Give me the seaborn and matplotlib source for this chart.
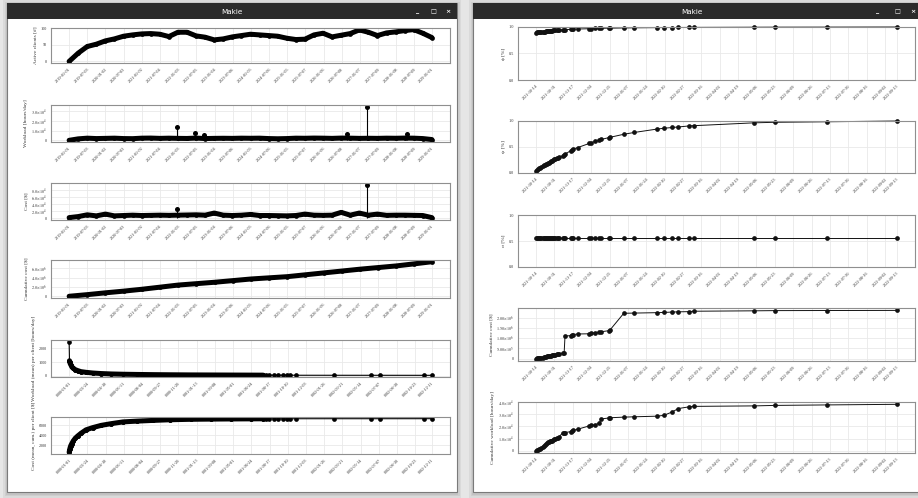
import numpy as np
import pandas as pd
import matplotlib
matplotlib.use("Agg")
import matplotlib.pyplot as plt
from matplotlib.patches import Rectangle
import seaborn as sns

W, H = 918, 498

# ---------------- data: left window ----------------
left_tick_labels = ["2019-01-01", "2019-07-03", "2020-01-02", "2020-07-03", "2021-01-02",
                    "2021-07-04", "2022-01-03", "2022-07-05", "2023-01-04", "2023-07-06",
                    "2024-01-05", "2024-07-06", "2025-01-05", "2025-07-07", "2026-01-06",
                    "2026-07-08", "2027-01-07", "2027-07-09", "2028-01-08", "2028-07-09",
                    "2029-01-01"]
left_q_dates = pd.date_range("2019-01-01", "2029-01-01", periods=41)

active_clients = [0, 25, 45, 52, 62, 68, 76, 80, 83, 84, 82, 75, 88, 88, 77, 73, 65, 68, 74, 78,
                  82, 80, 78, 76, 70, 66, 67, 80, 85, 74, 79, 84, 95, 88, 78, 86, 89, 93, 96, 85, 72]

workload_base = [0, 1500, 2200, 1800, 2000, 2200, 1800, 1700, 2200, 2300, 2000, 2200, 2000, 1900,
                 2300, 1800, 2000, 2100, 2000, 2200, 2100, 2200, 1800, 1600, 1800, 2200, 2100,
                 2300, 2200, 2000, 2300, 2200, 2000, 2100, 2000, 2200, 2100, 2300, 2200, 1800, 800]
wl_spike_dates = ["2021-12-18", "2022-06-22", "2022-09-20", "2026-09-03", "2027-03-24", "2028-04-30"]
wl_spike_values = [14000, 8000, 5700, 6300, 34500, 6300]

cost_base = [2000, 5000, 10000, 7000, 12000, 7000, 8000, 9000, 8000, 8500, 9000, 8500, 9000, 9500,
             10000, 9000, 15000, 9000, 8000, 9000, 11000, 8000, 8000, 7500, 7000, 8000, 12000,
             9000, 8500, 9000, 17000, 9000, 15000, 9000, 12000, 8500, 9000, 9000, 8500, 8000, 2000]
cost_spike_dates = ["2021-12-18", "2027-03-24"]
cost_spike_values = [26000, 96000]

cumcost_values = [0, 0.35e6, 0.74e6, 1.1e6, 1.5e6, 1.95e6, 2.4e6, 2.7e6, 3.0e6, 3.35e6, 3.7e6,
                  3.95e6, 4.2e6, 4.6e6, 5.0e6, 5.4e6, 5.8e6, 6.15e6, 6.5e6, 6.95e6, 7.4e6]

pc_tick_labels = ["0000-01-01", "0000-02-24", "0000-04-18", "0000-06-11", "0000-08-04",
                  "0000-09-27", "0000-11-20", "0001-01-13", "0001-03-08", "0001-05-01",
                  "0001-06-24", "0001-08-17", "0001-10-10", "0001-12-03", "0002-01-26",
                  "0002-03-21", "0002-05-14", "0002-07-07", "0002-08-30", "0002-10-23",
                  "0002-12-11"]
pc_tick_days = [0, 54, 108, 162, 216, 270, 324, 378, 432, 486, 540, 594, 648, 702, 756,
                810, 864, 918, 972, 1026, 1075]
pc_days = [0, 1, 2, 3, 5, 8, 12, 18, 25, 35, 50, 70, 95, 125, 160, 200, 250, 300, 360, 420, 480,
           540, 575, 582, 593, 607, 620, 633, 645, 654, 673, 786, 895, 922, 1052, 1075]
pc_workload = [2500, 1100, 1000, 900, 800, 650, 550, 450, 380, 300, 250, 200, 160, 130, 110, 95,
               80, 70, 60, 55, 50, 45, 42, 40, 40, 38, 38, 37, 37, 36, 35, 33, 32, 32, 30, 30]
pc_cost = [530, 900, 1200, 1500, 1900, 2300, 2800, 3350, 3800, 4350, 5050, 5500, 5950, 6300, 6650,
           6800, 6950, 7080, 7170, 7210, 7240, 7260, 7270, 7270, 7270, 7275, 7275, 7280, 7280,
           7280, 7285, 7290, 7290, 7290, 7295, 7295]
pc_dense_end = 23

# ---------------- data: right window ----------------
right_tick_labels = ["2021-10-14", "2021-10-31", "2021-11-17", "2021-12-04", "2021-12-21",
                     "2022-01-07", "2022-01-24", "2022-02-10", "2022-02-27", "2022-03-16",
                     "2022-04-02", "2022-04-19", "2022-05-06", "2022-05-23", "2022-06-09",
                     "2022-06-26", "2022-07-13", "2022-07-30", "2022-08-16", "2022-09-02",
                     "2022-09-13"]
ev_days = [0, 1, 2, 3, 4, 5, 6, 7, 8, 9, 10, 11, 12, 13, 14, 15, 16, 17, 18, 19, 20, 21,
           24.5, 26.0, 26.8, 32, 33, 34.5, 38.7, 49.4, 51, 54.7, 58.7, 60.3, 67.2, 68.2, 81.2, 91,
           112, 118.3, 126, 131.6, 141.5, 146.1, 202, 220.8, 268.8, 334]
phi = [0.895, 0.898, 0.900, 0.903, 0.906, 0.908, 0.910, 0.913, 0.915, 0.918, 0.920, 0.922, 0.925,
       0.927, 0.930, 0.932, 0.934, 0.936, 0.938, 0.940, 0.942, 0.944,
       0.946, 0.948, 0.950, 0.955, 0.956, 0.958, 0.962, 0.968, 0.970, 0.972, 0.974, 0.975, 0.978,
       0.978, 0.982, 0.985, 0.988, 0.989, 0.990, 0.991, 0.992, 0.993, 0.996, 0.997, 0.998, 1.0]
psi = [0.045, 0.06, 0.075, 0.09, 0.10, 0.115, 0.13, 0.145, 0.16, 0.17, 0.18, 0.19, 0.20, 0.21,
       0.225, 0.235, 0.25, 0.26, 0.27, 0.28, 0.29, 0.30,
       0.33, 0.35, 0.36, 0.43, 0.44, 0.46, 0.49, 0.57, 0.58, 0.61, 0.63, 0.645, 0.68, 0.685, 0.745,
       0.78, 0.845, 0.86, 0.875, 0.885, 0.905, 0.91, 0.965, 0.975, 0.985, 1.0]
sigma = [0.56, 0.56, 0.56, 0.56, 0.56, 0.56, 0.56, 0.56, 0.56, 0.56, 0.56, 0.56, 0.56, 0.56,
         0.56, 0.56, 0.56, 0.56, 0.56, 0.56, 0.56, 0.56, 0.56, 0.56, 0.56, 0.56, 0.56, 0.56,
         0.56, 0.56, 0.56, 0.56, 0.56, 0.56, 0.56, 0.56, 0.56, 0.56, 0.56, 0.56, 0.56, 0.56,
         0.56, 0.56, 0.56, 0.56, 0.56, 0.56]
r_cumcost = [0, 5e3, 1e4, 2e4, 3e4, 4e4, 5e4, 6.5e4, 8e4, 9.5e4, 1.1e5, 1.2e5, 1.3e5, 1.4e5,
             1.5e5, 1.6e5, 1.7e5, 1.8e5, 1.95e5, 2.1e5, 2.3e5, 2.45e5,
             2.6e5, 2.7e5, 1.10e6, 1.12e6, 1.14e6, 1.17e6, 1.20e6, 1.21e6, 1.24e6, 1.26e6, 1.29e6,
             1.31e6, 1.36e6, 1.38e6, 2.21e6, 2.22e6, 2.24e6, 2.25e6, 2.27e6, 2.28e6, 2.29e6,
             2.31e6, 2.33e6, 2.34e6, 2.345e6, 2.35e6]
r_cumwork = [0, 300, 700, 1200, 1800, 2500, 3200, 4000, 5000, 5800, 6300, 6800, 7200, 7600, 8000,
             8400, 8800, 9300, 9800, 10300, 10800, 11300,
             14500, 14800, 15000, 15700, 16200, 16800, 17800, 20500, 21000, 21200, 23000, 26200,
             27000, 27200, 27700, 28000, 28500, 29200, 32000, 34800, 36200, 36600, 37000, 37400,
             37800, 38300]

# ---------------- style ----------------
sns.set_style("white")
plt.rcParams["font.family"] = ["Liberation Serif", "DejaVu Serif"]
plt.rcParams["mathtext.fontset"] = "stix"

TXT = "#333333"
TICK_FS = 3.1
LAB_FS = 3.9
BAND_LW = 3.6
MS = 3.4

fig = plt.figure(figsize=(W / 100, H / 100), dpi=100)
fig.patch.set_facecolor("#e6e6e6")


def rect_px(x0, y0, x1, y1, **kw):
    r = Rectangle((x0 / W, 1 - y1 / H), (x1 - x0) / W, (y1 - y0) / H,
                  transform=fig.transFigure, figure=fig, zorder=-10, **kw)
    fig.patches.append(r)


def window(x0, x1, y0=3, y1=492, title_cx=0, btns=()):
    for d, a in ((4, 0.25), (2.5, 0.35), (1.2, 0.5)):
        rect_px(x0 - d, y0 - d + 1.5, x1 + d, y1 + d + 1.5, facecolor="#b8b8b8", alpha=a, lw=0)
    rect_px(x0, y0, x1, y1, facecolor="white", edgecolor="#7a7a7a", lw=0.8)
    rect_px(x0, y0, x1, y0 + 16, facecolor="#2b2b2b", lw=0)
    fig.text(title_cx / W, 1 - (y0 + 8.5) / H, "Makie", color="white", fontsize=5.2,
             ha="center", va="center", family="DejaVu Sans")
    for bx, g in zip(btns, ["_", "\u25a1", "\u00d7"]):
        fig.text(bx / W, 1 - (y0 + 8.5) / H, g, color="white", fontsize=4.5, ha="center",
                 va="center", family="DejaVu Sans", fontweight="bold")


window(7, 457, title_cx=232, btns=(418, 433, 448))
window(473, 921, title_cx=692, btns=(878, 897, 913))


def ax_at(x0, y0, x1, y1):
    return fig.add_axes([x0 / W, 1 - y1 / H, (x1 - x0) / W, (y1 - y0) / H])


def sci(v, digits):
    if v == 0:
        return "0"
    e = int(np.floor(np.log10(abs(v)) + 1e-9))
    m = v / 10 ** e
    return rf"${m:.{digits}f}{{\times}}10^{{{e}}}$"


def style(ax, ylabel, yticks, ylabels, xticks, xlabels):
    ax.set_facecolor("white")
    ax.grid(True, color="#e9e9e9", lw=0.6)
    ax.set_axisbelow(True)
    for s in ax.spines.values():
        s.set_color("#8f8f8f")
        s.set_linewidth(0.8)
    ax.set_yticks(yticks)
    ax.set_yticklabels(ylabels)
    ax.set_xticks(xticks)
    ax.set_xticklabels(xlabels, rotation=45, ha="right", rotation_mode="anchor")
    ax.tick_params(axis="both", labelsize=TICK_FS, length=1.8, width=0.5, color="#8f8f8f",
                   labelcolor=TXT, pad=1.2)
    ax.set_xlabel("")
    ax.set_ylabel(ylabel, fontsize=LAB_FS, color=TXT, labelpad=2)


def band(ax, x, y, lw=BAND_LW):
    sns.lineplot(x=x, y=y, ax=ax, color="black", lw=lw, marker="o", markersize=MS,
                 markeredgewidth=0, estimator=None, sort=False)


def spikes(ax, dates, values):
    d = pd.to_datetime(dates)
    ax.vlines(d, 0, values, color="black", lw=0.8)
    sns.scatterplot(x=d, y=values, ax=ax, color="black", s=13, linewidth=0)


left_ticks = pd.to_datetime(left_tick_labels)
LX0, LX1 = 51, 450

# 1 Active clients
ax = ax_at(LX0, 28, LX1, 63)
band(ax, left_q_dates, active_clients)
style(ax, "Active clients [#]", [0, 50, 100], ["0", "50", "100"], left_ticks, left_tick_labels)

# 2 Workload
ax = ax_at(LX0, 105, LX1, 142)
band(ax, left_q_dates, workload_base)
spikes(ax, wl_spike_dates, wl_spike_values)
yt = [0, 1e4, 2e4, 3e4]
style(ax, "Workload [hours/day]", yt, [sci(v, 1) for v in yt], left_ticks, left_tick_labels)

# 3 Cost
ax = ax_at(LX0, 183, LX1, 220)
band(ax, left_q_dates, cost_base)
spikes(ax, cost_spike_dates, cost_spike_values)
yt = [0, 2e4, 4e4, 6e4, 8e4]
style(ax, "Cost [$]", yt, [sci(v, 1) for v in yt], left_ticks, left_tick_labels)

# 4 Cumulative cost
ax = ax_at(LX0, 260, LX1, 298)
band(ax, left_ticks, cumcost_values)
yt = [0, 2e6, 4e6, 6e6]
style(ax, "Cumulative cost [$]", yt, [sci(v, 1) for v in yt], left_ticks, left_tick_labels)

# 5 Workload per client
ax = ax_at(LX0, 340, LX1, 377)
sns.lineplot(x=pc_days, y=pc_workload, ax=ax, color="black", lw=0.8, marker="o",
             markersize=MS, markeredgewidth=0, estimator=None, sort=False)
band(ax, pc_days[1:pc_dense_end], pc_workload[1:pc_dense_end])
style(ax, "Workload (mean) per client [hours/day]", [0, 1000, 2000], ["0", "1000", "2000"],
      pc_tick_days, pc_tick_labels)

# 6 Cost per client
ax = ax_at(LX0, 417, LX1, 454)
sns.lineplot(x=pc_days, y=pc_cost, ax=ax, color="black", lw=0.8, marker="o",
             markersize=MS, markeredgewidth=0, estimator=None, sort=False)
band(ax, pc_days[:pc_dense_end], pc_cost[:pc_dense_end])
style(ax, "Cost (mean, cum.) per client [$]", [2000, 4000, 6000], ["2000", "4000", "6000"],
      pc_tick_days, pc_tick_labels)

# ---------------- right window ----------------
right_ticks = pd.to_datetime(right_tick_labels)
ev_dates = pd.Timestamp("2021-10-14") + pd.to_timedelta(ev_days, unit="D")
RX0, RX1 = 518, 915


def events(ax, y):
    sns.lineplot(x=ev_dates, y=y, ax=ax, color="#111111", lw=0.7, marker="o", markersize=MS,
                 markeredgewidth=0, estimator=None, sort=False, clip_on=False)


for (y0, y1), vals, lab in [((27, 80), phi, "\u03d5 [%]"), ((121, 173), psi, "\u03c8 [%]"),
                            ((215, 267), sigma, "\u03c3 [%]")]:
    ax = ax_at(RX0, y0, RX1, y1)
    events(ax, vals)
    ax.set_ylim(0, 1)
    style(ax, lab, [0, 0.5, 1.0], ["0.0", "0.5", "1.0"], right_ticks, right_tick_labels)
    ax.set_xlim(ev_dates[0] - pd.Timedelta(days=16.7), ev_dates[-1] + pd.Timedelta(days=16.7))

ax = ax_at(RX0, 308, RX1, 361)
events(ax, r_cumcost)
yt = [0, 5e5, 1e6, 1.5e6, 2e6]
style(ax, "Cumulative cost [$]", yt, [sci(v, 2) for v in yt], right_ticks, right_tick_labels)

ax = ax_at(RX0, 402, RX1, 453)
events(ax, r_cumwork)
yt = [0, 1e4, 2e4, 3e4, 4e4]
style(ax, "Cumulative workload [hours/day]", yt, [sci(v, 1) for v in yt], right_ticks,
      right_tick_labels)

fig.savefig("out.png", dpi=100, facecolor=fig.get_facecolor())
